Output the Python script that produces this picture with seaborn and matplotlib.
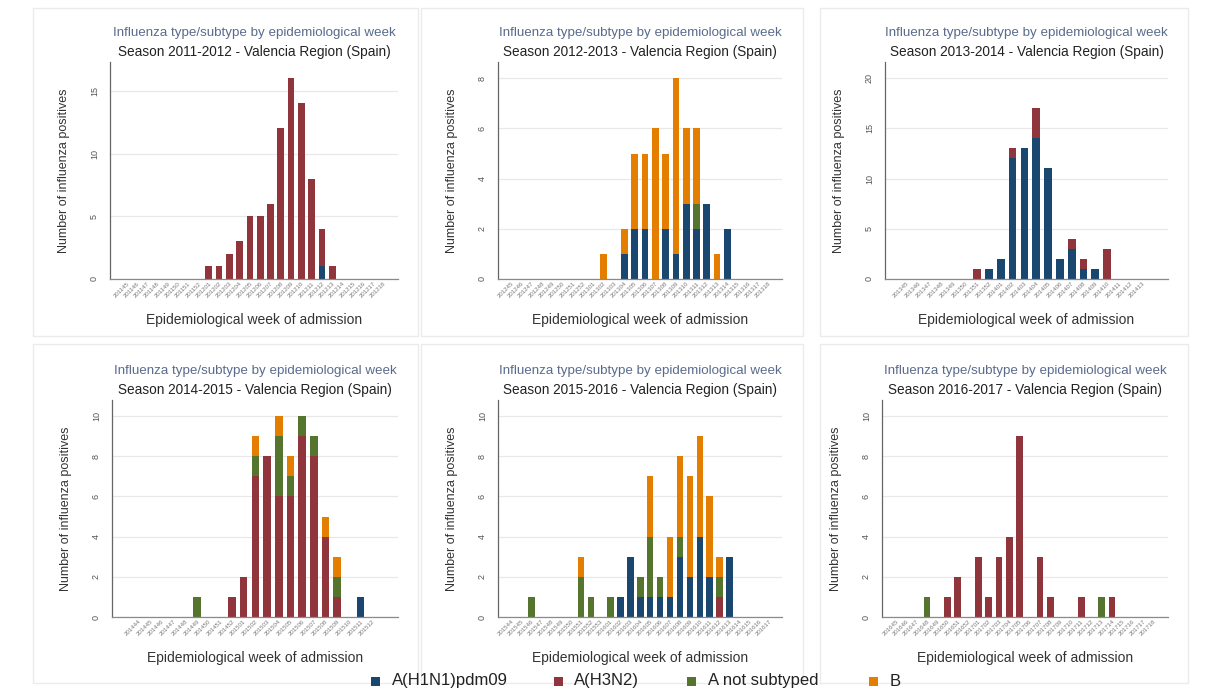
import numpy as np
import pandas as pd
import matplotlib
matplotlib.use("Agg")
import matplotlib.pyplot as plt
from matplotlib.patches import Rectangle
import seaborn as sns

# --- Data: influenza positives per epidemiological week, one block per season ---
seasons = ["2011-2012", "2012-2013", "2013-2014", "2014-2015", "2015-2016", "2016-2017"]
types = ["A(H1N1)pdm09", "A(H3N2)", "A not subtyped", "B"]

weeks_1112 = ["201145", "201146", "201147", "201148", "201149", "201150", "201151", "201152",
              "201201", "201202", "201203", "201204", "201205", "201206", "201207", "201208",
              "201209", "201210", "201211", "201212", "201213", "201214", "201215", "201216",
              "201217", "201218"]
h1n1_1112 = [0, 0, 0, 0, 0, 0, 0, 0, 0, 0, 0, 0, 0, 0, 0, 0, 0, 0, 0, 1, 0, 0, 0, 0, 0, 0]
h3n2_1112 = [0, 0, 0, 0, 0, 0, 0, 0, 1, 1, 2, 3, 5, 5, 6, 12, 16, 14, 8, 3, 1, 0, 0, 0, 0, 0]
nst_1112 = [0, 0, 0, 0, 0, 0, 0, 0, 0, 0, 0, 0, 0, 0, 0, 0, 0, 0, 0, 0, 0, 0, 0, 0, 0, 0]
b_1112 = [0, 0, 0, 0, 0, 0, 0, 0, 0, 0, 0, 0, 0, 0, 0, 0, 0, 0, 0, 0, 0, 0, 0, 0, 0, 0]

weeks_1213 = ["201245", "201246", "201247", "201248", "201249", "201250", "201251", "201252",
              "201301", "201302", "201303", "201304", "201305", "201306", "201307", "201308",
              "201309", "201310", "201311", "201312", "201313", "201314", "201315", "201316",
              "201317", "201318"]
h1n1_1213 = [0, 0, 0, 0, 0, 0, 0, 0, 0, 0, 0, 1, 2, 2, 0, 2, 1, 3, 2, 3, 0, 2, 0, 0, 0, 0]
h3n2_1213 = [0, 0, 0, 0, 0, 0, 0, 0, 0, 0, 0, 0, 0, 0, 0, 0, 0, 0, 0, 0, 0, 0, 0, 0, 0, 0]
nst_1213 = [0, 0, 0, 0, 0, 0, 0, 0, 0, 0, 0, 0, 0, 0, 0, 0, 0, 0, 1, 0, 0, 0, 0, 0, 0, 0]
b_1213 = [0, 0, 0, 0, 0, 0, 0, 0, 0, 1, 0, 1, 3, 3, 6, 3, 7, 3, 3, 0, 1, 0, 0, 0, 0, 0]

weeks_1314 = ["201345", "201346", "201347", "201348", "201349", "201350", "201351", "201352",
              "201401", "201402", "201403", "201404", "201405", "201406", "201407", "201408",
              "201409", "201410", "201411", "201412", "201413"]
h1n1_1314 = [0, 0, 0, 0, 0, 0, 0, 1, 2, 12, 13, 14, 11, 2, 3, 1, 1, 0, 0, 0, 0]
h3n2_1314 = [0, 0, 0, 0, 0, 0, 1, 0, 0, 1, 0, 3, 0, 0, 1, 1, 0, 3, 0, 0, 0]
nst_1314 = [0, 0, 0, 0, 0, 0, 0, 0, 0, 0, 0, 0, 0, 0, 0, 0, 0, 0, 0, 0, 0]
b_1314 = [0, 0, 0, 0, 0, 0, 0, 0, 0, 0, 0, 0, 0, 0, 0, 0, 0, 0, 0, 0, 0]

weeks_1415 = ["201444", "201445", "201446", "201447", "201448", "201449", "201450", "201451",
              "201452", "201501", "201502", "201503", "201504", "201505", "201506", "201507",
              "201508", "201509", "201510", "201511", "201512"]
h1n1_1415 = [0, 0, 0, 0, 0, 0, 0, 0, 0, 0, 0, 0, 0, 0, 0, 0, 0, 0, 0, 1, 0]
h3n2_1415 = [0, 0, 0, 0, 0, 0, 0, 0, 1, 2, 7, 8, 6, 6, 9, 8, 4, 1, 0, 0, 0]
nst_1415 = [0, 0, 0, 0, 0, 1, 0, 0, 0, 0, 1, 0, 3, 1, 1, 1, 0, 1, 0, 0, 0]
b_1415 = [0, 0, 0, 0, 0, 0, 0, 0, 0, 0, 1, 0, 1, 1, 0, 0, 1, 1, 0, 0, 0]

weeks_1516 = ["201544", "201545", "201546", "201547", "201548", "201549", "201550", "201551",
              "201552", "201553", "201601", "201602", "201603", "201604", "201605", "201606",
              "201607", "201608", "201609", "201610", "201611", "201612", "201613", "201614",
              "201615", "201616", "201617"]
h1n1_1516 = [0, 0, 0, 0, 0, 0, 0, 0, 0, 0, 0, 1, 3, 1, 1, 1, 1, 3, 2, 4, 2, 0, 3, 0, 0, 0, 0]
h3n2_1516 = [0, 0, 0, 0, 0, 0, 0, 0, 0, 0, 0, 0, 0, 0, 0, 0, 0, 0, 0, 0, 0, 1, 0, 0, 0, 0, 0]
nst_1516 = [0, 0, 1, 0, 0, 0, 0, 2, 1, 0, 1, 0, 0, 1, 3, 1, 0, 1, 0, 0, 0, 1, 0, 0, 0, 0, 0]
b_1516 = [0, 0, 0, 0, 0, 0, 0, 1, 0, 0, 0, 0, 0, 0, 3, 0, 3, 4, 5, 5, 4, 1, 0, 0, 0, 0, 0]

weeks_1617 = ["201645", "201646", "201647", "201648", "201649", "201650", "201651", "201652",
              "201701", "201702", "201703", "201704", "201705", "201706", "201707", "201708",
              "201709", "201710", "201711", "201712", "201713", "201714", "201715", "201716",
              "201717", "201718"]
h1n1_1617 = [0, 0, 0, 0, 0, 0, 0, 0, 0, 0, 0, 0, 0, 0, 0, 0, 0, 0, 0, 0, 0, 0, 0, 0, 0, 0]
h3n2_1617 = [0, 0, 0, 0, 0, 1, 2, 0, 3, 1, 3, 4, 9, 0, 3, 1, 0, 0, 1, 0, 0, 1, 0, 0, 0, 0]
nst_1617 = [0, 0, 0, 1, 0, 0, 0, 0, 0, 0, 0, 0, 0, 0, 0, 0, 0, 0, 0, 0, 1, 0, 0, 0, 0, 0]
b_1617 = [0, 0, 0, 0, 0, 0, 0, 0, 0, 0, 0, 0, 0, 0, 0, 0, 0, 0, 0, 0, 0, 0, 0, 0, 0, 0]

y_ticks = [[0, 5, 10, 15], [0, 2, 4, 6, 8], [0, 5, 10, 15, 20],
           [0, 2, 4, 6, 8, 10], [0, 2, 4, 6, 8, 10], [0, 2, 4, 6, 8, 10]]

# --- Styling ---
colors = {"A(H1N1)pdm09": "#1a476f", "A(H3N2)": "#90353b",
          "A not subtyped": "#55752f", "B": "#e37e00"}
sns.set_style("white")
plt.rcParams["font.family"] = ["Liberation Sans", "DejaVu Sans"]

W, H = 1214, 692
fig = plt.figure(figsize=(W / 100, H / 100), dpi=100)

# axes boxes in pixels: left, top, right, bottom
boxes = [(110, 62, 398, 279), (498, 62, 782, 279), (885, 62, 1168, 279),
         (112, 400, 398, 617), (498, 400, 782, 617), (882, 400, 1168, 617)]
xlims = [(-1.6, 26.4), (-1.26, 26.3), (-1.8, 22.15),
         (-2.26, 22.2), (-1.37, 27.3), (-1.36, 26.43)]
ytops = [17.3, 8.65, 21.6, 10.8, 10.8, 10.8]
frames = [(33, 8, 418, 336), (421, 8, 803, 336), (820, 8, 1188, 336),
          (33, 344, 418, 683), (421, 344, 803, 683), (820, 344, 1188, 683)]

panels = [
    (weeks_1112, h1n1_1112, h3n2_1112, nst_1112, b_1112),
    (weeks_1213, h1n1_1213, h3n2_1213, nst_1213, b_1213),
    (weeks_1314, h1n1_1314, h3n2_1314, nst_1314, b_1314),
    (weeks_1415, h1n1_1415, h3n2_1415, nst_1415, b_1415),
    (weeks_1516, h1n1_1516, h3n2_1516, nst_1516, b_1516),
    (weeks_1617, h1n1_1617, h3n2_1617, nst_1617, b_1617),
]

for fx0, fy0, fx1, fy1 in frames:
    fig.add_artist(Rectangle((fx0 / W, 1 - fy1 / H), (fx1 - fx0) / W, (fy1 - fy0) / H,
                             transform=fig.transFigure, fill=False,
                             edgecolor="#ebebeb", lw=1.0))

for i, (weeks, h1, h3, nst, bb) in enumerate(panels):
    x0, y0, x1, y1 = boxes[i]
    ax = fig.add_axes([x0 / W, 1 - y1 / H, (x1 - x0) / W, (y1 - y0) / H])

    df = pd.DataFrame({"week": weeks, "A(H1N1)pdm09": h1, "A(H3N2)": h3,
                       "A not subtyped": nst, "B": bb})
    # cumulative heights for stacking (drawn tallest first)
    df["c1"] = df["A(H1N1)pdm09"]
    df["c2"] = df["c1"] + df["A(H3N2)"]
    df["c3"] = df["c2"] + df["A not subtyped"]
    df["c4"] = df["c3"] + df["B"]
    for col, t in [("c4", "B"), ("c3", "A not subtyped"),
                   ("c2", "A(H3N2)"), ("c1", "A(H1N1)pdm09")]:
        sns.barplot(data=df, x="week", y=col, order=weeks, color=colors[t],
                    saturation=1, width=0.65, linewidth=0, ax=ax)

    ax.set_xlim(*xlims[i])
    ax.set_ylim(0, ytops[i])
    ax.set_yticks(y_ticks[i])
    ax.set_axisbelow(True)
    ax.yaxis.grid(True, color="#e8e8e8", lw=0.9)
    for s in ["top", "right"]:
        ax.spines[s].set_visible(False)
    ax.spines["left"].set_color("#666666")
    ax.spines["left"].set_linewidth(0.9)
    ax.spines["bottom"].set_color("#8a8a8a")
    ax.spines["bottom"].set_linewidth(0.9)

    ax.tick_params(axis="x", length=0, pad=1.5, labelsize=4.4, labelcolor="#7a7a7a")
    ax.tick_params(axis="y", length=4, width=0.8, color="#666666", pad=4,
                   labelsize=6.5, labelcolor="#555555", labelrotation=90)
    for lab in ax.get_xticklabels():
        lab.set_rotation(45)
        lab.set_ha("right")
        lab.set_rotation_mode("anchor")
    for lab in ax.get_yticklabels():
        lab.set_va("center")

    ax.set_xlabel("Epidemiological week of admission", fontsize=10, color="#333333")
    ax.set_ylabel("Number of influenza positives", fontsize=9, color="#333333")
    ax.xaxis.set_label_coords(0.5, -0.155)
    ax.yaxis.set_label_coords(-0.14, 0.5)

    ax.text(0.5, 1.135, "Influenza type/subtype by epidemiological week",
            transform=ax.transAxes, ha="center", va="center", fontsize=9.6,
            color="#5a6b8c")
    ax.text(0.5, 1.045, f"Season {seasons[i]} - Valencia Region (Spain)",
            transform=ax.transAxes, ha="center", va="center", fontsize=9.8,
            color="#222222")

# shared legend along the bottom edge
legend_sq = [375, 558, 691, 873]
legend_tx = [392, 574, 708, 890]
leg_y = 681
sq = 9
for t, sx, tx in zip(types, legend_sq, legend_tx):
    fig.add_artist(Rectangle(((sx - sq / 2) / W, 1 - (leg_y + sq / 2) / H), sq / W, sq / H,
                             transform=fig.transFigure, facecolor=colors[t],
                             edgecolor="none"))
    fig.text(tx / W, 1 - leg_y / H, t, ha="left", va="center", fontsize=12,
             color="#222222")

fig.savefig("out.png", dpi=100, facecolor="white")
